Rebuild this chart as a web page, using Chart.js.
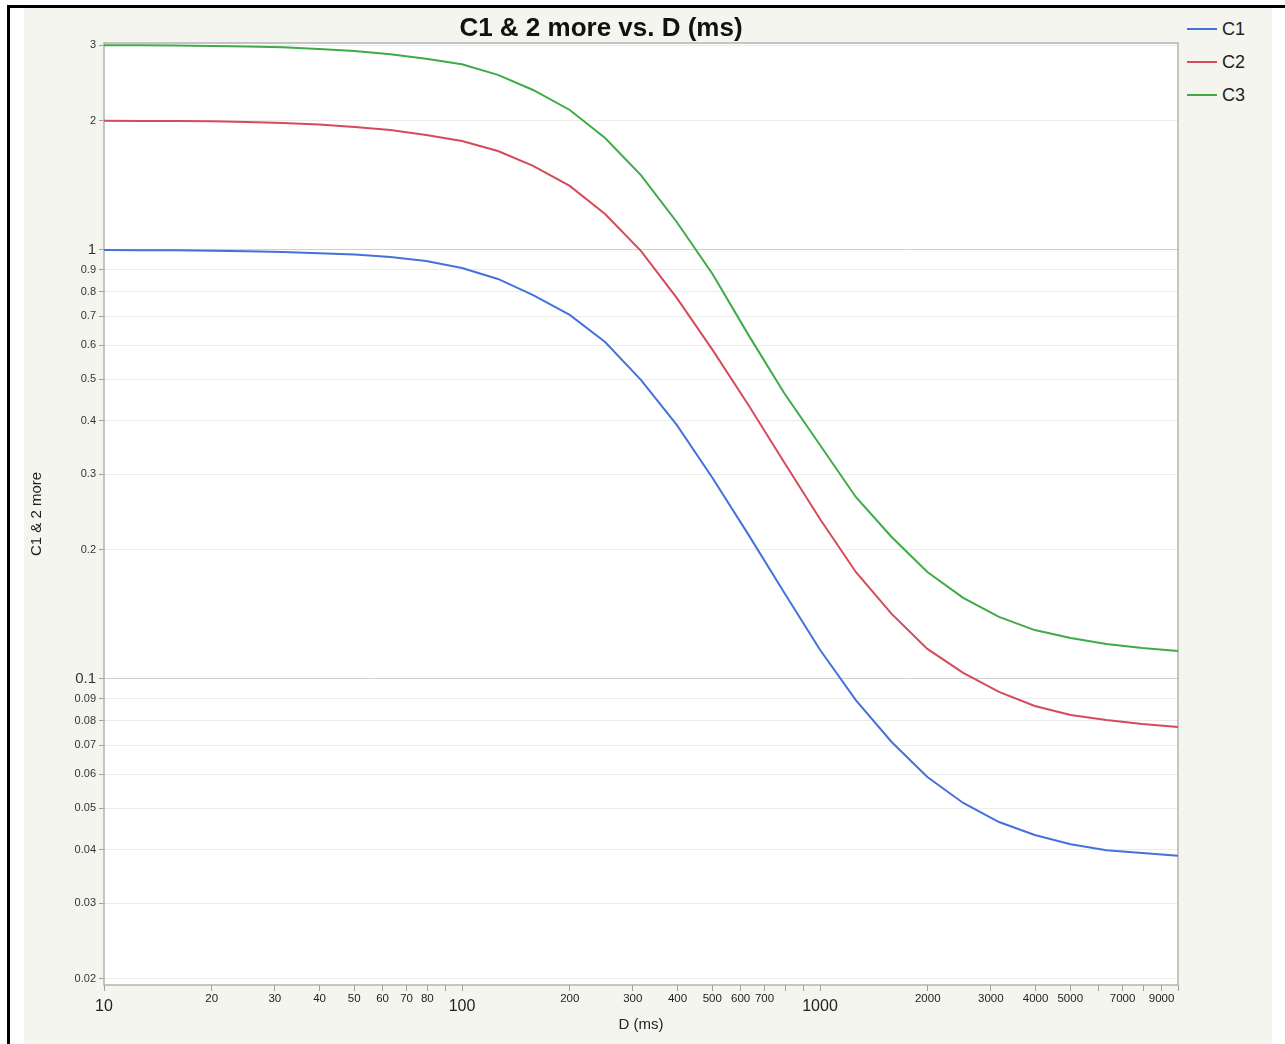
<!DOCTYPE html>
<html>
<head>
<meta charset="utf-8">
<script src="https://cdn.jsdelivr.net/npm/chart.js@4.4.1/dist/chart.umd.min.js"></script>
<style>
    body { margin: 0; background: #fff; width: 1285px; height: 1044px; overflow: hidden; position: relative; font-family: "Liberation Sans", Arial, sans-serif; }
    #frame { position: absolute; left: 7px; top: 5px; right: 0; bottom: 0; border-left: 3px solid #000; border-top: 3px solid #000; }
    #panel { position: absolute; left: 24px; top: 8px; width: 1248px; height: 1036px; background: #f5f5f0; }
    #wrap { position: absolute; left: 24px; top: 8px; width: 1157px; height: 1036px; }
    #legend { position: absolute; left: 1187px; top: 0; }
    .item { position: absolute; left: 0; height: 22px; display: flex; align-items: center; white-space: nowrap; }
    .swatch { width: 30px; height: 2.5px; }
    .label { margin-left: 5px; font-size: 18px; color: #222; }
</style>
</head>
<body>
<div id="frame"></div>
<div id="panel"></div>
<div id="wrap"><canvas id="chart" width="1157" height="1036"></canvas></div>
<div id="legend"></div>
<script>
// D (ms) sample points
const D_MS = [10, 12.6, 15.8, 20, 25.1, 31.6, 39.8, 50.1, 63.1, 79.4,
    100, 126, 158, 200, 251, 316, 398, 501, 631, 794,
    1000, 1259, 1585, 1995, 2512, 3162, 3981, 5012, 6310, 7943, 10000];

const C1 = [1.000, 0.999, 0.998, 0.996, 0.993, 0.989, 0.983, 0.976, 0.963, 0.943,
    0.908, 0.856, 0.785, 0.706, 0.610, 0.498, 0.391, 0.294, 0.217, 0.159,
    0.117, 0.0893, 0.0713, 0.0591, 0.0514, 0.0464, 0.0433, 0.0412, 0.0399, 0.0393, 0.0387];
const C2 = [2.000, 1.999, 1.998, 1.996, 1.988, 1.977, 1.961, 1.935, 1.904, 1.854,
    1.795, 1.701, 1.570, 1.410, 1.213, 0.995, 0.773, 0.585, 0.435, 0.320,
    0.236, 0.1776, 0.1418, 0.1175, 0.1033, 0.0933, 0.0865, 0.0824, 0.0802, 0.0785, 0.0773];
const C3 = [3.000, 2.999, 2.997, 2.990, 2.980, 2.970, 2.940, 2.910, 2.860, 2.790,
    2.710, 2.560, 2.360, 2.120, 1.824, 1.495, 1.162, 0.879, 0.634, 0.464,
    0.351, 0.2656, 0.2143, 0.1776, 0.1545, 0.1395, 0.130, 0.1246, 0.1207, 0.1181, 0.1162];

const SERIES_NAMES = ['C1', 'C2', 'C3'];
const COLORS = ['#4472dd', '#d64a5c', '#3fab47'];

const X_TICKS = [10, 20, 30, 40, 50, 60, 70, 80, 90,
    100, 200, 300, 400, 500, 600, 700, 800, 900,
    1000, 2000, 3000, 4000, 5000, 6000, 7000, 8000, 9000, 10000];
const X_LABELED = [10, 20, 30, 40, 50, 60, 70, 80, 100, 200, 300, 400, 500, 600, 700,
    1000, 2000, 3000, 4000, 5000, 7000, 9000];
const X_MAJOR = [10, 100, 1000];

const Y_TICKS = [0.02, 0.03, 0.04, 0.05, 0.06, 0.07, 0.08, 0.09,
    0.1, 0.2, 0.3, 0.4, 0.5, 0.6, 0.7, 0.8, 0.9, 1, 2, 3];
const Y_MAJOR = [0.1, 1];

Chart.defaults.font.family = '"Liberation Sans", Arial, sans-serif';
Chart.defaults.color = '#333';

const plotFrame = {
    id: 'plotFrame',
    beforeDraw(chart) {
        const { ctx, chartArea: a } = chart;
        ctx.save();
        ctx.fillStyle = '#fff';
        ctx.fillRect(a.left, a.top, a.right - a.left, a.bottom - a.top);
        ctx.restore();
    },
    beforeDatasetsDraw(chart) {
        const { ctx, chartArea: a } = chart;
        ctx.save();
        ctx.strokeStyle = '#b2b2b2';
        ctx.lineWidth = 1.5;
        ctx.strokeRect(a.left, a.top, a.right - a.left, a.bottom - a.top);
        ctx.restore();
    }
};

const series = [C1, C2, C3];
const datasets = series.map((vals, i) => ({
    label: SERIES_NAMES[i],
    data: D_MS.map((d, j) => ({ x: d, y: vals[j] })),
    borderColor: COLORS[i],
    backgroundColor: COLORS[i],
    borderWidth: 2,
    pointRadius: 0,
    tension: 0,
    fill: false
}));

const chart = new Chart(document.getElementById('chart'), {
    type: 'line',
    data: { datasets },
    plugins: [plotFrame],
    options: {
        responsive: false,
        animation: false,
        layout: { padding: { right: 3 } },
        plugins: {
            legend: { display: false },
            tooltip: { enabled: false },
            title: {
                display: true,
                text: 'C1 & 2 more vs. D (ms)',
                color: '#111',
                font: { size: 26, weight: 'bold', lineHeight: 1 },
                padding: { top: 8, bottom: 1 }
            }
        },
        scales: {
            x: {
                type: 'logarithmic',
                min: 10,
                max: 10000,
                afterBuildTicks: (scale) => { scale.ticks = X_TICKS.map(v => ({ value: v })); },
                afterFit: (scale) => { scale.height = 59; },
                border: { display: false },
                grid: {
                    drawOnChartArea: false,
                    drawTicks: true,
                    tickLength: 6,
                    tickColor: '#a0a0a0'
                },
                ticks: {
                    autoSkip: false,
                    maxRotation: 0,
                    minRotation: 0,
                    padding: 1,
                    color: '#222',
                    callback: (value) => X_LABELED.includes(value) ? String(value) : '',
                    font: (ctx) => (ctx.tick && X_MAJOR.includes(ctx.tick.value))
                        ? { size: 16, lineHeight: 1.85 }
                        : { size: 11.5, lineHeight: 1.2 }
                },
                title: {
                    display: true,
                    text: 'D (ms)',
                    color: '#222',
                    font: { size: 15, lineHeight: 1.2 },
                    padding: { top: 0, bottom: 10 }
                }
            },
            y: {
                type: 'logarithmic',
                min: 0.01935,
                max: 3.037,
                afterBuildTicks: (scale) => { scale.ticks = Y_TICKS.map(v => ({ value: v })); },
                afterFit: (scale) => { scale.width = 80; },
                border: { display: false },
                grid: {
                    drawTicks: true,
                    tickLength: 5,
                    tickColor: '#a0a0a0',
                    color: (ctx) => (ctx.tick && Y_MAJOR.includes(ctx.tick.value)) ? '#cfcfcf' : '#ebebeb',
                    lineWidth: 1
                },
                ticks: {
                    autoSkip: false,
                    padding: 3,
                    color: '#333',
                    callback: (value) => String(value),
                    font: (ctx) => (ctx.tick && Y_MAJOR.includes(ctx.tick.value))
                        ? { size: 15 }
                        : { size: 11 }
                },
                title: {
                    display: true,
                    text: 'C1 & 2 more',
                    color: '#222',
                    font: { size: 15, lineHeight: 1.2 },
                    padding: { top: 4, bottom: 0 }
                }
            }
        }
    }
});

// legend drawn as html next to the chart
const legendEl = document.getElementById('legend');
chart.data.datasets.forEach((ds, i) => {
    const item = document.createElement('div');
    item.className = 'item';
    item.style.top = (18 + i * 33) + 'px';
    const sw = document.createElement('span');
    sw.className = 'swatch';
    sw.style.background = ds.borderColor;
    const lb = document.createElement('span');
    lb.className = 'label';
    lb.textContent = ds.label;
    item.appendChild(sw);
    item.appendChild(lb);
    legendEl.appendChild(item);
});
</script>
</body>
</html>
